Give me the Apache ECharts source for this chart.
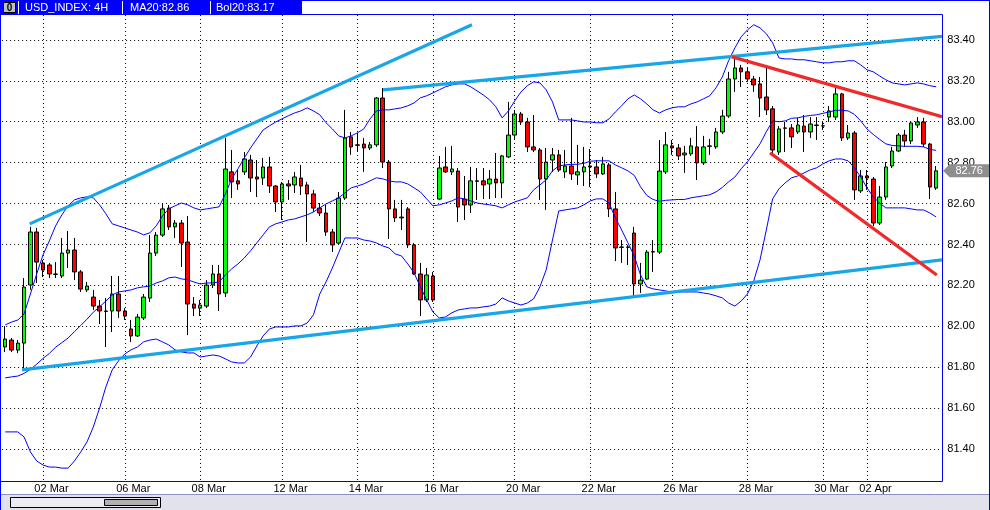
<!DOCTYPE html>
<html><head><meta charset="utf-8">
<script src="https://cdn.jsdelivr.net/npm/echarts@6/dist/echarts.min.js"></script>
<style>html,body{margin:0;padding:0;background:#fff}#c{width:990px;height:510px}</style>
</head><body><div id="c"></div><script>
// ---- data ----
// candles: [open, close, low, high]
const candles = [
[81.899,81.938,81.874,82.001],[81.933,81.884,81.874,81.943],[81.884,81.918,81.869,81.933],[81.918,82.192,81.786,82.236],[82.202,82.461,82.178,82.486],
[82.461,82.314,82.212,82.481],[82.310,82.275,82.241,82.324],[82.300,82.256,82.236,82.310],[82.256,82.254,82.236,82.314],[82.246,82.358,82.236,82.432],
[82.358,82.373,82.285,82.466],[82.373,82.266,82.226,82.432],[82.266,82.182,82.168,82.275],[82.178,82.197,82.168,82.217],[82.143,82.099,82.080,82.178],
[82.099,82.075,82.011,82.129],[82.075,82.073,81.899,82.138],[82.075,82.158,81.972,82.246],[82.158,82.075,82.041,82.246],[82.075,82.050,82.031,82.089],
[81.987,81.953,81.923,82.031],[81.953,82.045,81.948,82.060],[82.041,82.143,82.031,82.158],[82.138,82.358,82.119,82.446],[82.358,82.446,82.344,82.461],
[82.446,82.574,82.437,82.603],[82.578,82.486,82.471,82.593],[82.486,82.505,82.432,82.520],[82.505,82.407,82.290,82.520],[82.412,82.109,81.957,82.539],
[82.109,82.089,82.050,82.143],[82.089,82.104,82.050,82.129],[82.099,82.202,82.089,82.226],[82.202,82.256,82.187,82.300],[82.256,82.158,82.075,82.300],
[82.163,82.769,82.143,82.921],[82.755,82.706,82.627,82.862],[82.711,82.696,82.667,82.764],[82.755,82.818,82.740,82.852],[82.813,82.725,82.657,82.838],
[82.730,82.720,82.632,82.813],[82.725,82.779,82.691,82.823],[82.779,82.686,82.652,82.828],[82.686,82.608,82.559,82.690],[82.608,82.696,82.520,82.706],
[82.696,82.686,82.618,82.715],[82.691,82.730,82.652,82.755],[82.725,82.686,82.642,82.789],[82.691,82.647,82.412,82.706],[82.647,82.578,82.559,82.667],
[82.578,82.554,82.539,82.603],[82.554,82.461,82.442,82.593],[82.461,82.398,82.363,82.476],[82.407,82.627,82.398,82.657],[82.627,82.921,82.618,83.058],
[82.926,82.877,82.838,82.950],[82.887,82.885,82.852,82.945],[82.891,82.872,82.755,82.921],[82.872,82.887,82.862,82.901],[82.887,83.116,82.877,83.121],
[83.116,82.803,82.774,83.165],[82.803,82.574,82.427,82.813],[82.574,82.530,82.510,82.618],[82.530,82.534,82.471,82.618],[82.574,82.398,82.383,82.583],
[82.398,82.256,82.251,82.407],[82.256,82.129,82.050,82.310],[82.129,82.251,82.119,82.285],[82.246,82.129,82.119,82.266],[82.622,82.774,82.618,82.833],
[82.779,82.755,82.750,82.877],[82.755,82.769,82.740,82.882],[82.759,82.583,82.510,82.774],[82.622,82.593,82.520,82.735],[82.593,82.711,82.554,82.779],
[82.711,82.709,82.618,82.774],[82.711,82.691,82.622,82.774],[82.696,82.720,82.622,82.764],[82.720,82.701,82.627,82.847],[82.701,82.833,82.627,82.838],
[82.828,82.935,82.823,83.097],[82.935,83.038,82.911,83.058],[83.038,82.999,82.984,83.048],[82.999,82.877,82.852,83.019],[82.877,82.862,82.852,83.033],
[82.862,82.720,82.618,82.872],[82.720,82.803,82.569,82.872],[82.813,82.838,82.755,82.872],[82.838,82.764,82.755,82.862],[82.755,82.784,82.725,82.862],
[82.784,82.745,82.715,83.019],[82.740,82.755,82.691,82.887],[82.755,82.779,82.686,82.877],[82.784,82.779,82.681,82.867],[82.779,82.745,82.725,82.813],
[82.745,82.794,82.740,82.828],[82.789,82.574,82.534,82.799],[82.574,82.383,82.319,82.657],[82.388,82.386,82.310,82.422],[82.386,82.388,82.300,82.398],
[82.456,82.207,82.143,82.486],[82.207,82.226,82.163,82.310],[82.231,82.363,82.226,82.373],[82.363,82.365,82.266,82.422],[82.363,82.759,82.354,82.911],
[82.755,82.887,82.745,82.950],[82.882,82.872,82.838,82.911],[82.872,82.833,82.813,82.891],[82.838,82.847,82.750,82.882],[82.843,82.882,82.833,82.921],
[82.877,82.799,82.715,82.979],[82.799,82.877,82.789,82.931],[82.882,82.880,82.838,82.916],[82.877,82.950,82.867,82.970],[82.950,83.028,82.940,83.058],
[83.028,83.209,83.019,83.244],[83.209,83.263,83.146,83.312],[83.263,83.244,83.170,83.278],[83.244,83.209,83.195,83.263],[83.209,83.180,83.146,83.224],
[83.185,83.116,83.023,83.219],[83.121,83.058,83.033,83.268],[83.063,82.862,82.847,83.077],[82.852,82.965,82.838,82.979],[82.970,82.968,82.852,82.999],
[82.970,82.926,82.872,82.989],[82.950,82.984,82.940,83.019],[82.979,82.950,82.852,83.033],[82.950,82.989,82.921,83.023],[82.984,82.982,82.911,83.023],
[82.979,82.980,82.960,82.999],[83.023,83.053,82.999,83.077],[83.023,83.136,83.009,83.165],[83.136,82.921,82.906,83.141],[82.921,82.945,82.911,82.984],
[82.945,82.667,82.618,82.955],[82.662,82.735,82.652,82.764],[82.735,82.725,82.667,82.764],[82.720,82.505,82.490,82.730],[82.505,82.632,82.495,82.686],
[82.632,82.779,82.618,82.803],[82.784,82.857,82.774,82.877],[82.857,82.935,82.852,82.945],[82.935,82.906,82.877,82.960],[82.906,82.994,82.891,82.999],
[82.984,82.999,82.970,83.023],[82.999,82.891,82.877,83.019],[82.891,82.681,82.622,82.896],[82.676,82.760,82.667,82.784]
];
const upperBand = [82.007,82.021,82.031,82.061,82.158,82.256,82.349,82.417,82.491,82.545,
82.589,82.618,82.628,82.633,82.628,82.594,82.550,82.501,82.491,82.481,
82.471,82.461,82.447,82.457,82.491,82.540,82.574,82.589,82.603,82.594,
82.579,82.569,82.574,82.579,82.584,82.647,82.721,82.770,82.823,82.872,
82.916,82.960,82.980,82.999,83.014,83.029,83.043,83.053,83.068,83.053,
83.034,82.995,82.965,82.931,82.921,82.931,82.946,82.965,83.014,83.053,
83.058,83.058,83.063,83.068,83.078,83.092,83.117,83.127,83.141,83.156,
83.171,83.180,83.185,83.185,83.171,83.151,83.131,83.107,83.073,83.019,
83.053,83.102,83.146,83.176,83.195,83.190,83.156,83.097,83.009,83.009,
83.009,83.004,82.999,82.999,82.995,82.995,83.014,83.048,83.078,83.112,
83.131,83.112,83.087,83.058,83.043,83.058,83.068,83.073,83.073,83.087,
83.097,83.112,83.127,83.166,83.219,83.298,83.361,83.415,83.449,83.474,
83.459,83.430,83.386,83.312,83.307,83.307,83.303,83.303,83.298,83.293,
83.288,83.288,83.293,83.293,83.298,83.298,83.278,83.254,83.244,83.224,
83.205,83.190,83.185,83.180,83.185,83.190,83.185,83.176,83.171];
const middleBand = [81.748,81.753,81.757,81.770,81.790,81.815,81.843,81.867,81.898,81.920,
81.943,81.974,82.004,82.035,82.069,82.095,82.124,82.153,82.168,82.173,
82.178,82.188,82.193,82.197,82.212,82.222,82.237,82.241,82.232,82.227,
82.217,82.207,82.212,82.212,82.217,82.251,82.281,82.305,82.334,82.369,
82.408,82.447,82.486,82.501,82.510,82.520,82.525,82.535,82.545,82.559,
82.579,82.598,82.613,82.628,82.652,82.677,82.686,82.696,82.711,82.726,
82.721,82.711,82.706,82.706,82.696,82.677,82.657,82.623,82.589,82.594,
82.603,82.613,82.628,82.623,82.613,82.603,82.598,82.594,82.589,82.579,
82.594,82.608,82.618,82.628,82.667,82.691,82.716,82.760,82.784,82.789,
82.792,82.792,82.797,82.807,82.809,82.809,82.809,82.789,82.775,82.760,
82.738,82.682,82.640,82.620,82.611,82.616,82.618,82.620,82.620,82.628,
82.633,82.638,82.643,82.657,82.679,82.706,82.730,82.770,82.804,82.848,
82.892,82.951,83.004,83.000,83.004,83.017,83.019,83.026,83.031,83.034,
83.041,83.048,83.056,83.056,83.053,83.036,83.004,82.965,82.938,82.914,
82.892,82.884,82.882,82.880,82.880,82.880,82.877,82.865,82.860];
const lowerBand = [81.484,81.484,81.484,81.459,81.386,81.342,81.322,81.312,81.312,81.307,
81.307,81.342,81.386,81.435,81.508,81.601,81.704,81.787,81.831,81.865,
81.885,81.899,81.924,81.933,81.938,81.924,81.909,81.885,81.875,81.870,
81.870,81.850,81.855,81.860,81.855,81.841,81.826,81.821,81.821,81.850,
81.904,81.953,81.987,81.997,81.997,81.997,82.002,82.002,82.016,82.056,
82.158,82.217,82.285,82.359,82.432,82.432,82.432,82.422,82.417,82.408,
82.393,82.383,82.354,82.344,82.305,82.261,82.193,82.129,82.070,82.041,
82.046,82.066,82.080,82.085,82.090,82.090,82.095,82.099,82.109,82.139,
82.124,82.114,82.104,82.114,82.134,82.193,82.276,82.422,82.564,82.569,
82.574,82.579,82.594,82.613,82.623,82.623,82.603,82.530,82.471,82.408,
82.344,82.251,82.193,82.183,82.178,82.173,82.168,82.168,82.168,82.168,
82.168,82.163,82.158,82.149,82.139,82.114,82.099,82.124,82.158,82.222,
82.325,82.471,82.623,82.672,82.701,82.726,82.735,82.750,82.765,82.775,
82.794,82.809,82.818,82.818,82.809,82.775,82.730,82.677,82.633,82.603,
82.579,82.579,82.579,82.579,82.574,82.569,82.569,82.554,82.535];
// date ticks: candle index where each day label sits
const tickIndex  = [6, 19, 31, 44, 56, 68, 81, 93, 106, 118, 130, 137];
const tickLabels = ['02 Mar','06 Mar','08 Mar','12 Mar','14 Mar','16 Mar','20 Mar','22 Mar','26 Mar','28 Mar','30 Mar','02 Apr'];
const priceTicks = [81.4, 81.6, 81.8, 82.0, 82.2, 82.4, 82.6, 82.8, 83.0, 83.2, 83.4];
// trend lines: [candleIndex, price] end points
const upperLeftTrend = [[3.9, 82.501], [74.2, 83.474]];
const upperChannel   = [[60.06, 83.156], [148.93, 83.417]];
const lowerChannel   = [[2.66, 81.787], [148.93, 82.325]];
const redUpperTrend  = [[115.55, 83.317], [148.93, 83.025]];
const redLowerTrend  = [[121.6, 82.848], [148.1, 82.251]];
const lastPrice = 82.76;
const header = {symbol: 'USD_INDEX: 4H', ma: 'MA20:82.86', bol: 'Bol20:83.17'};
const plotTopValue = 83.522, plotBottomValue = 81.244;

// ---- chart ----
const categories = candles.map((_, i) => String(i));
const FONT = '"Liberation Sans", Arial, sans-serif';
const BLUE = '#0000EE';
const chart = echarts.init(document.getElementById('c'));
const trend = (data, color) => ({
  type: 'line', xAxisIndex: 1, yAxisIndex: 0, data, symbol: 'none', clip: false, z: 6, silent: true,
  lineStyle: {color, width: 3.2}
});
const band = (data) => ({
  type: 'line', data, symbol: 'none', z: 5, silent: true, lineStyle: {color: '#0000FF', width: 1}
});
chart.setOption({
  animation: false,
  textStyle: {fontFamily: FONT},
  grid: {left: 2.1, top: -1, width: 937.2, height: 491, containLabel: false, outerBoundsMode: 'none'},
  xAxis: [{
    type: 'category', data: categories, boundaryGap: true, offset: -9,
    axisLine: {show: false}, axisTick: {show: false}, splitLine: {show: false},
    axisLabel: {
      interval: (i) => tickIndex.includes(i), margin: 2, color: '#000', fontSize: 11, fontFamily: FONT,
      formatter: (v, i) => { const j = tickIndex.indexOf(Number(v)); return j < 0 ? '' : '{p|' + tickLabels[j] + '}'; },
      rich: {p: {padding: [0, 0, 0, 17], fontSize: 11, color: '#000', fontFamily: FONT}}
    }
  }, {
    type: 'value', min: -0.5, max: candles.length - 0.5, show: false
  }],
  yAxis: {
    type: 'value', position: 'right', min: 81.2, max: 83.6, interval: 0.2,
    axisLine: {show: false}, axisTick: {show: false}, splitLine: {show: false},
    axisLabel: {margin: 8, color: '#000', fontSize: 11, fontFamily: FONT,
      formatter: (v) => (v < priceTicks[0] - 0.05 || v > priceTicks[priceTicks.length - 1] + 0.05) ? '' : v.toFixed(2)}
  },
  series: [
    { // dotted grid
      type: 'line', data: categories.map(() => null), z: 1, silent: true,
      markLine: {
        silent: true, symbol: ['none', 'none'], label: {show: false}, animation: false,
        lineStyle: {color: '#000', width: 1, type: [1, 3]},
        emphasis: {disabled: true},
        data: priceTicks.map(v => ({yAxis: v})).concat(
          tickIndex.map(i => [{coord: [i, plotTopValue]}, {coord: [i, plotBottomValue]}]))
      }
    },
    {
      type: 'candlestick', data: candles, barWidth: 4, z: 3,
      itemStyle: {color: '#00FF00', color0: '#FF0000', borderColor: '#000', borderColor0: '#000', borderWidth: 1},
      markPoint: {
        silent: true, animation: false,
        symbol: 'path://M0,6.5L6.5,0L46,0L46,13L6.5,13Z', symbolSize: [46, 13], symbolOffset: [30, 0],
        itemStyle: {color: '#8e8e8e'},
        label: {show: true, position: 'inside', formatter: lastPrice.toFixed(2), color: '#fff', fontSize: 11, fontFamily: FONT, offset: [3, 0]},
        data: [{coord: [candles.length - 1, lastPrice], value: lastPrice}]
      }
    },
    band(upperBand), band(middleBand), band(lowerBand),
    trend(upperLeftTrend, '#19A6E6'), trend(upperChannel, '#19A6E6'), trend(lowerChannel, '#19A6E6'),
    trend(redUpperTrend, '#EE2A2A'), trend(redLowerTrend, '#EE2A2A')
  ],
  graphic: [
    {type: 'rect', z: 50, silent: true, shape: {x: 0, y: 494, width: 990, height: 16}, style: {fill: '#e2e2ec'}},
    {type: 'line', z: 51, silent: true, shape: {x1: 0, y1: 494.5, x2: 990, y2: 494.5}, style: {stroke: '#9090c8', lineWidth: 1}},
    {type: 'rect', z: 51, silent: true, shape: {x: 10.5, y: 497.5, width: 150, height: 10}, style: {fill: '#ececf2', stroke: '#000', lineWidth: 1}},
    {type: 'rect', z: 52, silent: true, shape: {x: 104.5, y: 499.5, width: 53, height: 6}, style: {fill: '#b2b2b2', stroke: '#000', lineWidth: 1}},
    {type: 'rect', z: 50, silent: true, shape: {x: 0, y: 0, width: 302, height: 15}, style: {fill: '#0000FF'}},
    {type: 'rect', z: 51, silent: true, shape: {x: 3.5, y: 2.5, width: 12, height: 10}, style: {fill: '#c0c0c0', stroke: '#000', lineWidth: 1}},
    {type: 'text', z: 52, silent: true, x: 9.5, y: 8, style: {text: '0', fill: '#000', font: 'bold 10px ' + FONT, align: 'center', verticalAlign: 'middle'}},
    {type: 'line', z: 51, silent: true, shape: {x1: 18.5, y1: 1, x2: 18.5, y2: 14}, style: {stroke: '#fff', lineWidth: 1}},
    {type: 'line', z: 51, silent: true, shape: {x1: 122.5, y1: 1, x2: 122.5, y2: 14}, style: {stroke: '#fff', lineWidth: 1}},
    {type: 'line', z: 51, silent: true, shape: {x1: 210.5, y1: 1, x2: 210.5, y2: 14}, style: {stroke: '#fff', lineWidth: 1}},
    {type: 'text', z: 52, silent: true, x: 25, y: 8, style: {text: header.symbol, fill: '#fff', font: '11px ' + FONT, verticalAlign: 'middle'}},
    {type: 'text', z: 52, silent: true, x: 130, y: 8, style: {text: header.ma, fill: '#fff', font: '11px ' + FONT, verticalAlign: 'middle'}},
    {type: 'text', z: 52, silent: true, x: 216, y: 8, style: {text: header.bol, fill: '#fff', font: '11px ' + FONT, verticalAlign: 'middle'}},
    {type: 'line', z: 53, silent: true, shape: {x1: 0, y1: 0.5, x2: 990, y2: 0.5}, style: {stroke: BLUE, lineWidth: 1}},
    {type: 'line', z: 53, silent: true, shape: {x1: 0, y1: 14.5, x2: 942.5, y2: 14.5}, style: {stroke: BLUE, lineWidth: 1}},
    {type: 'line', z: 53, silent: true, shape: {x1: 0.5, y1: 0, x2: 0.5, y2: 510}, style: {stroke: BLUE, lineWidth: 1}},
    {type: 'line', z: 53, silent: true, shape: {x1: 989.5, y1: 0, x2: 989.5, y2: 510}, style: {stroke: BLUE, lineWidth: 1}},
    {type: 'line', z: 53, silent: true, shape: {x1: 0, y1: 481.5, x2: 942.5, y2: 481.5}, style: {stroke: BLUE, lineWidth: 1}},
    {type: 'line', z: 53, silent: true, shape: {x1: 942.5, y1: 14.5, x2: 942.5, y2: 481.5}, style: {stroke: BLUE, lineWidth: 1}}
  ]
});
</script></body></html>
